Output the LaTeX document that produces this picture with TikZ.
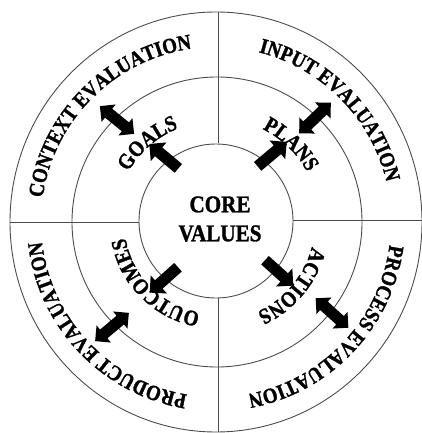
\documentclass[tikz,border=0pt]{standalone}
\usepackage{fontspec}
\setmainfont{Liberation Serif}
\newfontfamily\narrowserif[FakeStretch=0.88, FakeBold=1.3]{Liberation Serif}
\usetikzlibrary{decorations.text,shapes.arrows}
\newcommand\ofnt{\narrowserif\fontsize{21.5}{21.5}\selectfont\bfseries}
\newcommand\mfnt{\narrowserif\fontsize{22}{22}\selectfont\bfseries}
\tikzset{
  ring/.style={draw=black!70, line width=0.9pt},
  arrowone/.style={single arrow, fill=black, draw=none, inner sep=5.5pt, minimum height=38pt,
    single arrow head extend=6.5pt, anchor=center},
  arrowtwo/.style={double arrow, fill=black, draw=none, inner sep=5.5pt, minimum height=44pt,
    double arrow head extend=5.5pt, anchor=center}
}
\begin{document}
\begin{tikzpicture}[x=1pt,y=1pt]
\useasboundingbox (-216,-211) rectangle (206,222);
% rings
\draw[ring] (0,0) ellipse[x radius=206, y radius=210];
\draw[ring] (1,0) circle[radius=145];
\draw[ring] (0,1) circle[radius=77];
% dividers
\draw[ring] (2,79) -- (2,210);
\draw[ring] (2,-76) -- (2,-210);
\draw[ring] (-206,0) -- (-77,0);
\draw[ring] (77,2) -- (206,2);
% centre
\node[font=\narrowserif\fontsize{24}{29}\selectfont\bfseries, align=center] (core) at (4,3) {CORE\\VALUES};
% outer ring texts
\path[decorate, decoration={text along path, text align=center, text={|\ofnt|CONTEXT EVALUATION}}]
  (180:175) arc[start angle=180, end angle=90, radius=175];
\path[decorate, decoration={text along path, text align=center, text={|\ofnt|INPUT EVALUATION}}]
  (89.5:175) arc[start angle=89.5, end angle=-0.5, radius=175];
\path[decorate, decoration={text along path, text align=center, text={|\ofnt|PROCESS EVALUATION}}]
  (1.5:175) arc[start angle=1.5, end angle=-88.5, radius=175];
\path[decorate, decoration={text along path, text align=center, text={|\ofnt|PRODUCT EVALUATION}}]
  (268.5:175) arc[start angle=268.5, end angle=178.5, radius=175];
% middle ring texts
\path[decorate, decoration={text along path, text align=center, text={|\mfnt|GOALS}}]
  (191:101) arc[start angle=191, end angle=71, radius=101];
\path[decorate, decoration={text along path, text align=center, text={|\mfnt|PLANS}}]
  (106:104) arc[start angle=106, end angle=-14, radius=104];
\path[decorate, decoration={text along path, text align=center, text={|\mfnt|ACTIONS}}]
  (20:99) arc[start angle=20, end angle=-100, radius=99];
\path[decorate, decoration={text along path, text align=center, text={|\mfnt|OUTCOMES}}]
  (285:92) arc[start angle=285, end angle=165, radius=92];
% inner arrows
\node[arrowone, rotate=140] (agoals) at (-50,64) {};
\node[arrowone, rotate=40] (aplans) at (54,66) {};
\node[arrowone, rotate=-42] (aactions) at (61,-49) {};
\node[arrowone, rotate=222] (aoutcomes) at (-50,-56) {};
% double arrows
\node[arrowtwo, rotate=141] (dcontext) at (-99,102) {};
\node[arrowtwo, rotate=44] (dinput) at (99,104) {};
\node[arrowtwo, rotate=-42] (dprocess) at (116,-91) {};
\node[arrowtwo, rotate=220] (dproduct) at (-104,-105) {};
\end{tikzpicture}
\end{document}
